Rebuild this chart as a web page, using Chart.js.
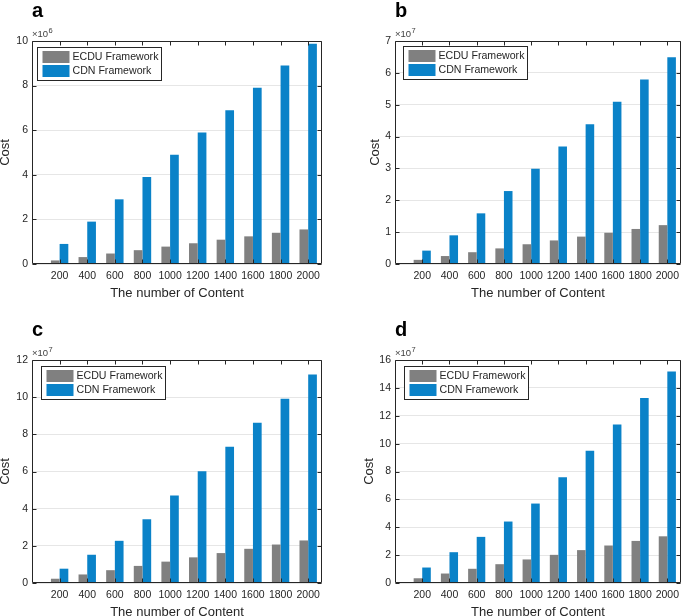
<!DOCTYPE html>
<html><head><meta charset="utf-8">
<script src="https://cdn.jsdelivr.net/npm/chart.js@4.4.1/dist/chart.umd.min.js"></script>
<style>
html,body{margin:0;padding:0;background:#fff;width:685px;height:616px;overflow:hidden;}
canvas{position:absolute;}
</style></head><body>
<canvas id="ca" width="342" height="308" style="left:0px;top:0px"></canvas>
<canvas id="cb" width="343" height="308" style="left:342px;top:0px"></canvas>
<canvas id="cc" width="342" height="319" style="left:0px;top:308px"></canvas>
<canvas id="cd" width="343" height="319" style="left:342px;top:308px"></canvas>
<script>
// ---------- data ----------
const categories = [200, 400, 600, 800, 1000, 1200, 1400, 1600, 1800, 2000];
const seriesNames = ['ECDU Framework', 'CDN Framework'];
const xRange = [0, 2100];

// panel a (x10^6)
const ecduA = [0.16, 0.31, 0.47, 0.62, 0.78, 0.93, 1.09, 1.24, 1.40, 1.55];
const cdnA  = [0.90, 1.90, 2.90, 3.90, 4.90, 5.90, 6.90, 7.90, 8.90, 9.88];
const yTicksA = [0, 2, 4, 6, 8, 10];
const expA = 6;

// panel b (x10^7)
const ecduB = [0.13, 0.25, 0.37, 0.49, 0.62, 0.74, 0.86, 0.98, 1.10, 1.22];
const cdnB  = [0.42, 0.90, 1.59, 2.29, 2.99, 3.69, 4.39, 5.09, 5.79, 6.49];
const yTicksB = [0, 1, 2, 3, 4, 5, 6, 7];
const expB = 7;

// panel c (x10^7)
const ecduC = [0.23, 0.46, 0.69, 0.92, 1.15, 1.38, 1.61, 1.84, 2.07, 2.29];
const cdnC  = [0.77, 1.52, 2.27, 3.43, 4.71, 6.02, 7.33, 8.62, 9.92, 11.22];
const yTicksC = [0, 2, 4, 6, 8, 10, 12];
const expC = 7;

// panel d (x10^7)
const ecduD = [0.34, 0.68, 1.02, 1.35, 1.69, 2.02, 2.36, 2.69, 3.02, 3.35];
const cdnD  = [1.11, 2.21, 3.31, 4.41, 5.70, 7.58, 9.48, 11.37, 13.27, 15.17];
const yTicksD = [0, 2, 4, 6, 8, 10, 12, 14, 16];
const expD = 7;

const panelLetters = ['a', 'b', 'c', 'd'];
const xTitle = 'The number of Content';
const yTitle = 'Cost';

// ---------- styling ----------
const FONT = '"Liberation Sans", Arial, Helvetica, sans-serif';
const TXT = '#262626';
const GREY = '#808080';
const BLUE = '#0a82c8';
const AXIS = '#262626';

const deco = {
  id: 'panelDeco',
  afterDraw(chart, args, opts) {
    const ctx = chart.ctx;
    const ca = chart.chartArea;
    const xs = chart.scales.x, ys = chart.scales.y;
    const l = Math.round(ca.left) + 0.5, r = Math.round(ca.right) - 0.5;
    const t = Math.round(ca.top) + 0.5, b = Math.round(ca.bottom) - 0.5;
    ctx.save();
    // box
    ctx.strokeStyle = AXIS; ctx.lineWidth = 1;
    ctx.beginPath();
    ctx.rect(l, t, r - l, b - t);
    ctx.stroke();
    // inward ticks
    const TL = 4;
    ctx.beginPath();
    xs.ticks.forEach(tk => {
      const px = Math.round(xs.getPixelForValue(tk.value)) + 0.5;
      ctx.moveTo(px, b); ctx.lineTo(px, b - TL);
      ctx.moveTo(px, t); ctx.lineTo(px, t + TL);
    });
    ys.ticks.forEach(tk => {
      const py = Math.round(ys.getPixelForValue(tk.value)) + 0.5;
      ctx.moveTo(l, py); ctx.lineTo(l + TL, py);
      ctx.moveTo(r, py); ctx.lineTo(r - TL, py);
    });
    ctx.stroke();

    // legend
    const bx = Math.round(ca.left + opts.legendDX) + 0.5;
    const by = Math.round(ca.top + opts.legendDY) + 0.5;
    const bw = 124, bh = 33;
    ctx.fillStyle = '#fff';
    ctx.fillRect(bx, by, bw, bh);
    ctx.strokeStyle = AXIS;
    ctx.strokeRect(bx, by, bw, bh);
    ctx.font = '10.6px ' + FONT;
    ctx.textBaseline = 'middle';
    ctx.textAlign = 'left';
    chart.data.datasets.forEach((ds, i) => {
      const sy = by + 3.5 + i * 14;
      ctx.fillStyle = ds.backgroundColor;
      ctx.fillRect(bx + 5, sy, 27, 12);
      ctx.fillStyle = TXT;
      ctx.fillText(ds.label, bx + 35, sy + 6.5);
    });

    // exponent
    ctx.fillStyle = '#404040';
    ctx.textBaseline = 'alphabetic';
    ctx.font = '9.5px ' + FONT;
    const base = '\u00d7' + '10';
    ctx.fillText(base, ca.left, ca.top - 4);
    const w = ctx.measureText(base).width;
    ctx.font = '7.5px ' + FONT;
    ctx.fillText(String(opts.exponent), ca.left + w + 0.5, ca.top - 8.5);

    // panel letter
    ctx.fillStyle = '#000';
    ctx.font = 'bold 20px ' + FONT;
    ctx.fillText(opts.letter, ca.left, ca.top - 24);
    ctx.restore();
  }
};

function makeChart(canvasId, geo, ecdu, cdn, yTicks, exponent, letter) {
  const cv = document.getElementById(canvasId);
  const W = cv.width, H = cv.height;
  return new Chart(cv, {
    type: 'bar',
    data: {
      labels: categories,
      datasets: [
        { label: seriesNames[0], data: ecdu, backgroundColor: GREY, borderWidth: 0 },
        { label: seriesNames[1], data: cdn, backgroundColor: BLUE, borderWidth: 0 }
      ]
    },
    options: {
      responsive: false,
      animation: false,
      devicePixelRatio: 1,
      layout: { padding: { left: 0, top: geo.T, right: W - geo.R, bottom: 0 } },
      datasets: { bar: { categoryPercentage: 0.63, barPercentage: 1 } },
      plugins: {
        legend: { display: false },
        tooltip: { enabled: false },
        panelDeco: { letter: letter, exponent: exponent, legendDX: geo.lx, legendDY: geo.ly }
      },
      scales: {
        x: {
          type: 'linear', min: xRange[0], max: xRange[1], offset: false,
          grid: { display: false, offset: false, drawTicks: false },
          border: { display: false },
          afterBuildTicks: s => { s.ticks = categories.map(v => ({ value: v })); },
          afterFit: s => { s.height = H - geo.B; },
          ticks: { autoSkip: false, maxRotation: 0, minRotation: 0, padding: 6, color: TXT,
                   font: { family: FONT, size: 10.5 }, callback: v => String(v) },
          title: { display: true, text: xTitle, color: TXT,
                   font: { family: FONT, size: 13, lineHeight: 1.2 }, padding: { top: 0, bottom: 7.2 } }
        },
        y: {
          type: 'linear', min: yTicks[0], max: yTicks[yTicks.length - 1],
          grid: { color: '#e6e6e6', drawTicks: false, lineWidth: 1 },
          border: { display: false },
          afterBuildTicks: s => { s.ticks = yTicks.map(v => ({ value: v })); },
          afterFit: s => { s.width = geo.L; },
          ticks: { padding: 4, color: TXT, font: { family: FONT, size: 10.5 }, callback: v => String(v) },
          title: { display: true, text: yTitle, color: TXT,
                   font: { family: FONT, size: 13, lineHeight: 1.2 }, padding: { top: geo.yt - 7.8, bottom: 0 } }
        }
      }
    },
    plugins: [deco]
  });
}

makeChart('ca', { L: 32, R: 322, T: 41, B: 264, yt: 5,  lx: 5,   ly: 6 },   ecduA, cdnA, yTicksA, expA, panelLetters[0]);
makeChart('cb', { L: 53, R: 343, T: 41, B: 264, yt: 33, lx: 8,   ly: 5 },   ecduB, cdnB, yTicksB, expB, panelLetters[1]);
makeChart('cc', { L: 32, R: 322, T: 52, B: 275, yt: 5,  lx: 8.5, ly: 5.5 }, ecduC, cdnC, yTicksC, expC, panelLetters[2]);
makeChart('cd', { L: 53, R: 343, T: 52, B: 275, yt: 27, lx: 9,   ly: 5.5 }, ecduD, cdnD, yTicksD, expD, panelLetters[3]);
</script>
</body></html>
